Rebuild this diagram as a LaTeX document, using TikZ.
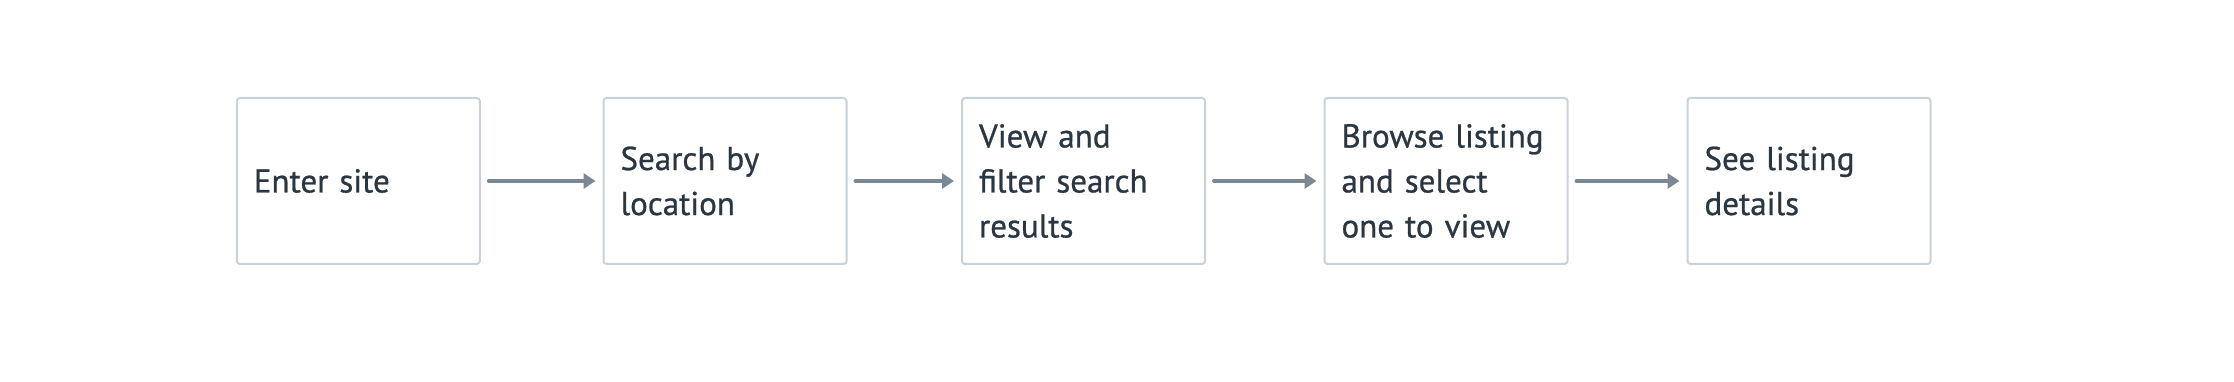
\documentclass[tikz,border=0pt]{standalone}
\usepackage{fontspec}
\setmainfont{PT Sans}[BoldFont={PT Sans}, BoldFeatures={FakeBold=0.7}]
\usepackage{tikz}
\usetikzlibrary{arrows.meta, positioning}
\definecolor{StepText}{HTML}{2A3642}
\definecolor{StepLine}{HTML}{C9D1D9}
\definecolor{FlowArrow}{HTML}{7B8893}
\newcommand{\stepfont}{\fontsize{9.4}{12.8}\selectfont\bfseries\hyphenpenalty=10000\relax}

\begin{document}
\begin{tikzpicture}[
    stepbox/.style={draw=StepLine, line width=0.02cm, rounded corners=0.03cm, fill=white,
        text width=2.09cm, inner xsep=0.17cm, inner ysep=0pt, minimum height=1.66cm,
        align=left, text=StepText, font=\stepfont},
    flow/.style={-{Triangle[length=0.12cm, width=0.15cm]}, line width=0.04cm, line cap=round,
        draw=FlowArrow, shorten <=0.08cm, shorten >=0.07cm},
]
\useasboundingbox (0,0) rectangle (22.34,3.82);

% --- Steps of the flow ---
\node[stepbox] at (3.583, 2.01)  (enter)   {Enter site};
\node[stepbox] at (7.25, 2.01)   (search)  {Search by\\location};
\node[stepbox] at (10.835, 2.01) (filter)  {View and\\filter search\\results};
\node[stepbox] at (14.46, 2.01)  (browse)  {Browse listing\\and select\\one to view};
\node[stepbox] at (18.09, 2.01)  (details) {See listing\\details};

% --- Transitions ---
\draw[flow] (enter)  -- (search);
\draw[flow] (search) -- (filter);
\draw[flow] (filter) -- (browse);
\draw[flow] (browse) -- (details);

\end{tikzpicture}
\end{document}
